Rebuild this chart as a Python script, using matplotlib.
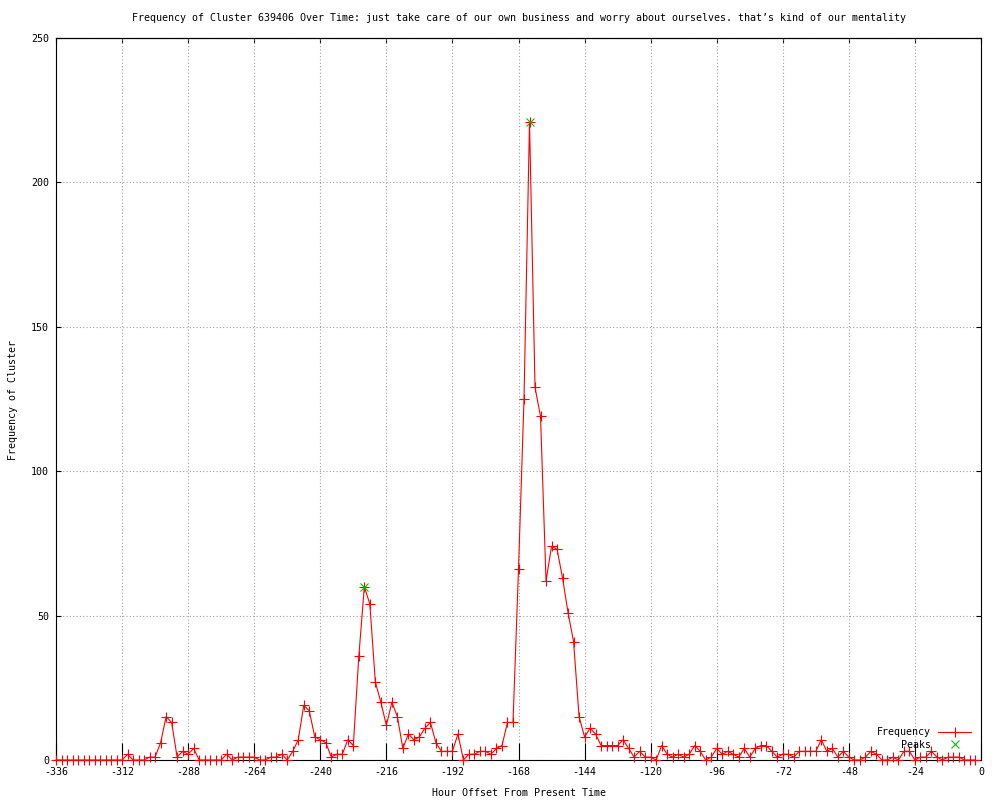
import matplotlib
matplotlib.use("Agg")
import matplotlib.pyplot as plt

FONT = "DejaVu Sans Mono"
FS = 7.2

hours = list(range(-336, 0, 2))
frequency = [
    0, 0, 0, 0, 0, 0, 0, 0, 0, 0, 0, 0,                   # -336 .. -314
    0, 2, 0, 0, 0, 1, 1, 6, 15, 13, 1, 3,                 # -312 .. -290
    2, 4, 0, 0, 0, 0, 0, 2, 0, 1, 1, 1,                   # -288 .. -266
    1, 0, 0, 1, 1, 2, 0, 3, 7, 19, 17, 8,                 # -264 .. -242
    7, 6, 1, 2, 2, 7, 5, 36, 60, 54, 27, 20,              # -240 .. -218
    12, 20, 15, 4, 9, 7, 8, 11, 13, 6, 3, 3,              # -216 .. -194
    3, 9, 0, 2, 2, 3, 3, 2, 4, 5, 13, 13,                 # -192 .. -170
    66, 125, 221, 129, 119, 62, 74, 73, 63, 51, 41, 15,   # -168 .. -146
    8, 11, 9, 5, 5, 5, 5, 7, 4, 1, 3, 1,                  # -144 .. -122
    1, 0, 5, 2, 1, 2, 1, 2, 5, 3, 0, 1,                   # -120 .. -98
    4, 2, 3, 2, 1, 4, 1, 4, 5, 5, 3, 1,                   # -96 .. -74
    2, 2, 1, 3, 3, 3, 3, 7, 3, 4, 1, 3,                   # -72 .. -50
    1, 0, 0, 1, 3, 2, 0, 0, 1, 0, 3, 3,                   # -48 .. -26
    0, 1, 1, 3, 1, 0, 1, 1, 1, 0, 0, 0,                   # -24 .. -2
]
peak_hours = [-224, -164]
peak_values = [60, 221]

x_ticks = list(range(-336, 1, 24))
y_ticks = [0, 50, 100, 150, 200, 250]

title = ("Frequency of Cluster 639406 Over Time: just take care of our own "
         "business and worry about ourselves. that\u2019s kind of our mentality")

plt.rcParams["font.family"] = [FONT, "DejaVu Sans"]
plt.rcParams["font.size"] = FS

fig = plt.figure(figsize=(10, 8), dpi=100)
ax = fig.add_axes([0.056, 0.05, 0.925, 0.9025])

ax.plot(hours, frequency, color="#ff0000", linewidth=0.8, marker="+",
        markersize=7, markeredgewidth=0.8, clip_on=False, label="Frequency",
        zorder=3)
ax.plot(peak_hours, peak_values, linestyle="none", color="#00c000", marker="x",
        markersize=5.5, markeredgewidth=0.8, clip_on=False, label="Peaks",
        zorder=4)

ax.set_xlim(-336, 0)
ax.set_ylim(0, 250)
ax.set_xticks(x_ticks)
ax.set_yticks(y_ticks)
ax.set_xticklabels([str(t) for t in x_ticks])
ax.set_yticklabels([str(t) for t in y_ticks])

ax.grid(True, color="#a0a0a0", linestyle=(0, (1, 2)), linewidth=0.8)
ax.set_axisbelow(True)

ax.tick_params(axis="x", direction="in", length=12, width=0.8, pad=5,
               labelsize=FS, bottom=True, top=False)
ax.tick_params(axis="y", direction="in", length=3.6, width=0.8, pad=5,
               labelsize=FS, left=True, right=True)
top = ax.secondary_xaxis("top")
top.set_xticks(x_ticks)
top.tick_params(direction="in", length=3.6, width=0.8, labeltop=False)
top.spines["top"].set_linewidth(0.8)
for s in ax.spines.values():
    s.set_linewidth(0.8)

fig.text(0.5185, 0.9775, title, ha="center", va="center", fontsize=FS)
fig.text(0.5185, 0.009, "Hour Offset From Present Time", ha="center",
         va="center", fontsize=FS)
fig.text(0.013, 0.5, "Frequency of Cluster", ha="center", va="center",
         rotation=90, fontsize=FS)

fig.legend(loc="upper right", bbox_to_anchor=(0.971, 1 - 727 / 800),
           frameon=False, markerfirst=False, handlelength=3.3,
           handletextpad=0.7, labelspacing=0.25, borderpad=0,
           borderaxespad=0, fontsize=FS)

fig.savefig("out.png", dpi=100)
